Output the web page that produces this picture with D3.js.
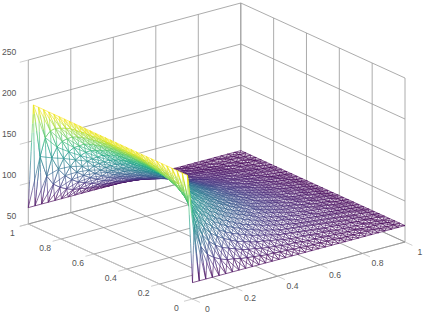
<!DOCTYPE html>
<html>
<head>
<meta charset="utf-8">
<script src="https://d3js.org/d3.v7.min.js"></script>
<style>
    html, body { margin: 0; padding: 0; background: white; }
    svg { display: block; }
</style>
</head>
<body>
<svg id="fig_trimesh" width="423" height="318"></svg>
<script>
'use strict';

var x_ticks = [0, 0.2, 0.4, 0.6, 0.8, 1];
var y_ticks = [0, 0.2, 0.4, 0.6, 0.8, 1];
var z_ticks = [50, 100, 150, 200, 250];

// surface heights, one row per y step from the
// y=0 edge up to the middle of the plate, one column per x step.
// the plate is symmetric about y=0.5, the other half is mirrored below
var z_half_rows = [
    [70,70,70,70,70,70,70,70,70,70,70,70,70,70,70,70,70,70,70,70,70,70,70,70,70,70,70,70,70,70,70,70,70],
    [198,133,107,95,89,85,82,81,79,78,77,76,75,75,74,74,73,73,72,72,72,72,72,71,71,71,71,71,71,70,70,70,70],
    [198,159,132,116,106,99,94,91,88,85,83,82,80,79,78,77,76,76,75,74,74,74,73,73,72,72,72,71,71,71,71,70,70],
    [198,170,148,132,120,111,105,100,96,92,90,87,85,84,82,81,79,78,77,77,76,75,75,74,73,73,72,72,72,71,71,70,70],
    [198,176,158,143,131,121,114,108,103,99,96,93,90,88,86,84,82,81,80,79,78,77,76,75,75,74,73,73,72,72,71,71,70],
    [198,179,164,151,139,130,122,115,110,105,101,98,94,92,89,87,85,83,82,81,80,79,78,77,76,75,74,73,73,72,71,71,70],
    [198,182,169,156,146,136,128,121,115,110,106,102,98,95,93,90,88,86,84,83,81,80,79,78,77,76,75,74,73,72,72,71,70],
    [198,184,172,161,151,141,133,126,120,115,110,106,102,99,96,93,90,88,86,85,83,81,80,79,78,77,76,75,74,73,72,71,70],
    [198,185,174,164,154,146,138,131,124,119,114,109,105,102,99,96,92,90,88,86,84,83,81,80,79,77,76,75,74,73,72,71,70],
    [198,186,176,166,157,149,141,134,128,122,117,112,108,104,101,98,94,92,90,88,86,84,82,81,79,78,77,76,74,73,72,71,70],
    [198,187,177,168,160,152,144,137,131,125,120,115,111,107,103,100,96,94,91,89,87,85,83,82,80,79,77,76,75,73,72,71,70],
    [198,187,178,170,162,154,146,140,133,127,122,117,113,108,105,101,98,95,92,90,88,86,84,82,81,79,78,76,75,74,72,71,70],
    [198,188,179,171,163,155,148,141,135,129,124,119,114,110,106,103,99,96,93,91,89,87,85,83,81,80,78,77,75,74,73,71,70],
    [198,188,180,172,164,156,149,143,136,131,125,120,115,111,107,104,100,97,94,92,89,87,85,83,82,80,78,77,75,74,73,71,70],
    [198,188,180,172,165,157,150,144,137,132,126,121,116,112,108,104,101,98,95,92,90,88,86,84,82,80,78,77,76,74,73,71,70],
    [198,188,180,172,165,158,151,144,138,132,127,122,117,113,109,105,101,98,95,93,90,88,86,84,82,80,79,77,76,74,73,71,70],
    [198,188,180,173,165,158,151,144,138,132,127,122,117,113,109,105,102,98,95,93,90,88,86,84,82,80,79,77,76,74,73,71,70]
];
var z_rows = z_half_rows.concat(z_half_rows.slice(0, -1).reverse());

var color_grid = '#979797';
var color_axis = '#c2c2c2';
var color_text = '#555555';
var font_size = 8.6;
var mesh_width = 0.65;

// the three box edges that leave the front corner, as scales on screen
var px_x = d3.scaleLinear().domain([0, 1]).range([0, 212.5]);
var py_x = d3.scaleLinear().domain([0, 1]).range([0, -57]);
var px_y = d3.scaleLinear().domain([0, 1]).range([0, -164.2]);
var py_y = d3.scaleLinear().domain([0, 1]).range([0, -75]);
var py_z = d3.scaleLinear().domain([50, 250]).range([0, -164]);
var front = [192.5, 299];

var color_scale = d3.scaleSequential(d3.interpolateViridis).domain([70, 198]);

function project(x, y, z) {
    return [
        front[0] + px_x(x) + px_y(y),
        front[1] + py_x(x) + py_y(y) + py_z(z)
    ];
}

var svg = d3.select('#fig_trimesh');

function draw_seg(g, a, b, color, w) {
    var p = project(a[0], a[1], a[2]);
    var q = project(b[0], b[1], b[2]);
    g.append('line')
        .attr('x1', p[0]).attr('y1', p[1])
        .attr('x2', q[0]).attr('y2', q[1])
        .attr('stroke', color)
        .attr('stroke-width', w);
}

function draw_box() {
    var g = svg.append('g').attr('class', 'grid');
    var z0 = z_ticks[0];
    var z1 = z_ticks[z_ticks.length - 1];

    // floor
    x_ticks.forEach(function(x) {
        draw_seg(g, [x, 0, z0], [x, 1, z0], color_grid, 0.8);
    });
    y_ticks.forEach(function(y) {
        draw_seg(g, [0, y, z0], [1, y, z0], color_grid, 0.8);
    });
    // wall at y=1
    x_ticks.forEach(function(x) {
        draw_seg(g, [x, 1, z0], [x, 1, z1], color_grid, 0.8);
    });
    // wall at x=1
    y_ticks.forEach(function(y) {
        draw_seg(g, [1, y, z0], [1, y, z1], color_grid, 0.8);
    });
    z_ticks.forEach(function(z) {
        draw_seg(g, [0, 1, z], [1, 1, z], color_grid, 0.8);
        draw_seg(g, [1, 1, z], [1, 0, z], color_grid, 0.8);
    });

    // front axes and their ticks
    draw_seg(g, [0, 0, z0], [0, 1, z0], color_axis, 1);
    draw_seg(g, [0, 0, z0], [1, 0, z0], color_grid, 0.8);
    x_ticks.forEach(function(x) {
        draw_seg(g, [x, 0, z0], [x, -0.045, z0], color_axis, 0.8);
    });
    y_ticks.forEach(function(y) {
        draw_seg(g, [0, y, z0], [-0.04, y, z0], color_axis, 0.8);
    });
    z_ticks.forEach(function(z) {
        draw_seg(g, [0, 1, z], [-0.04, 1, z], color_axis, 0.8);
    });
}

function draw_labels() {
    var g = svg.append('g')
        .attr('class', 'labels')
        .attr('font-family', '"Liberation Sans", Arial, sans-serif')
        .attr('font-size', font_size)
        .attr('fill', color_text)
        .attr('text-anchor', 'middle');

    x_ticks.forEach(function(x) {
        var p = project(x, 0, z_ticks[0]);
        g.append('text')
            .attr('x', p[0] + 15)
            .attr('y', p[1] + 13)
            .text(x);
    });
    y_ticks.forEach(function(y) {
        var p = project(0, y, z_ticks[0]);
        g.append('text')
            .attr('x', p[0] - 16)
            .attr('y', p[1] + 12)
            .text(y);
    });
    z_ticks.forEach(function(z) {
        var p = project(0, 1, z);
        g.append('text')
            .attr('x', p[0] - 12)
            .attr('y', p[1] - 5)
            .attr('text-anchor', 'end')
            .text(z);
    });
}

// split the long edges so that the colour runs along them
function draw_edge(g, a, b) {
    var n = Math.max(1, Math.ceil(Math.abs(a[2] - b[2]) / 12));
    var t = d3.range(n + 1).map(function(k) { return k / n; });
    d3.pairs(t).forEach(function(d) {
        var p = [0, 1, 2].map(function(c) { return a[c] + (b[c] - a[c]) * d[0]; });
        var q = [0, 1, 2].map(function(c) { return a[c] + (b[c] - a[c]) * d[1]; });
        draw_seg(g, p, q, color_scale((p[2] + q[2]) / 2), mesh_width);
    });
}

// one cell: white face, the four sides and both diagonals
function draw_cell(g, a, b, c, d) {
    var pts = [a, b, c, d].map(function(n) { return project(n[0], n[1], n[2]); });
    g.append('path')
        .attr('d', d3.line()(pts) + 'Z')
        .attr('fill', 'white');
    draw_edge(g, a, b);
    draw_edge(g, b, c);
    draw_edge(g, c, d);
    draw_edge(g, d, a);
    draw_edge(g, a, c);
    draw_edge(g, b, d);
}

// back corner first, the white faces hide whatever lies behind them
function draw_mesh() {
    var g = svg.append('g').attr('class', 'mesh');
    var n_y = z_rows.length - 1;
    var n_x = z_rows[0].length - 1;
    var node = function(i, j) {
        return [i / n_x, j / n_y, z_rows[j][i]];
    };
    for (var i = n_x - 1; i >= 0; i--) {
        for (var j = n_y - 1; j >= 0; j--) {
            draw_cell(g, node(i, j), node(i + 1, j), node(i + 1, j + 1), node(i, j + 1));
        }
    }
}

draw_box();
draw_labels();
draw_mesh();
</script>
</body>
</html>
